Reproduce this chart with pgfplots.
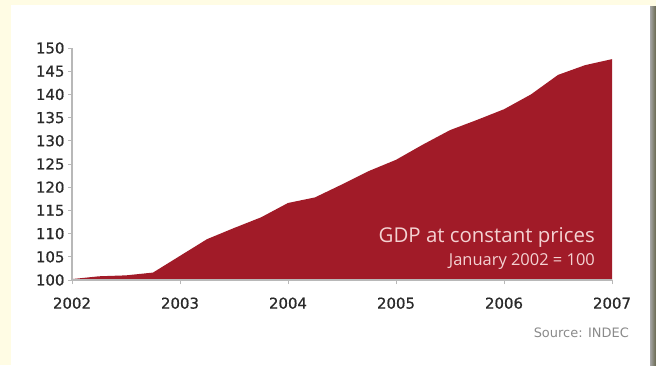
\documentclass[border=0pt]{standalone}
\usepackage{pgfplots}
\pgfplotsset{compat=1.18}
\usepackage{fontspec}
\setmainfont{DejaVu Sans}
\newfontfamily\tickfont[FakeBold=0.8]{DejaVu Sans}
\newfontfamily\myriad{Open Sans}
\definecolor{cream}{HTML}{FFFCE4}
\definecolor{gdpred}{HTML}{A11B28}
\definecolor{axgray}{HTML}{B8B8B8}
\definecolor{labgray}{HTML}{2A2A2A}
\definecolor{pinktxt}{HTML}{F4D2D2}
\definecolor{srcgray}{HTML}{8A8A8A}
\begin{document}
\begin{tikzpicture}[x=1bp,y=1bp]
\path[use as bounding box] (0,0) rectangle (656,365);
\fill[cream] (0,0) rectangle (656,365);
\fill[white] (11,0) rectangle (650,360);
\shade[left color=gray!70, right color=black!75!yellow!40!gray] (650,0) rectangle (656,358);
\begin{axis}[
  at={(72bp,85bp)}, anchor=south west,
  width=540bp, height=232bp, scale only axis,
  xmin=2002, xmax=2007, ymin=100, ymax=150,
  xtick={2002,2003,2004,2005,2006,2007},
  ytick={100,105,...,150},
  axis lines=left,
  axis line style={draw=axgray, line width=1.2pt, -},
  tick style={draw=axgray, line width=1pt},
  tick align=outside,
  major tick length=4bp,
  axis on top,
  /pgf/number format/assume math mode=true,
  /pgf/number format/1000 sep={},
  ticklabel style={font=\tickfont\fontsize{15}{17}\selectfont, text=labgray},
  xticklabel style={yshift=-10bp},
  yticklabel style={xshift=0bp},
]
\addplot[fill=gdpred, draw=none] coordinates {
(2002.00,100.2) (2002.25,100.8) (2002.50,101.0) (2002.75,101.6)
(2003.00,105.2) (2003.25,108.8) (2003.50,111.2) (2003.75,113.5)
(2004.00,116.6) (2004.25,117.8) (2004.50,120.6) (2004.75,123.5)
(2005.00,125.9) (2005.25,129.2) (2005.50,132.3) (2005.75,134.5)
(2006.00,136.8) (2006.25,140.0) (2006.50,144.2) (2006.75,146.3)
(2007.00,147.6)} \closedcycle;
\end{axis}
\node[anchor=base east, inner sep=0pt, text=pinktxt, font=\myriad\fontsize{20.5}{22}\selectfont] at (595,123) {GDP at constant prices};
\node[anchor=base east, inner sep=0pt, text=pinktxt, font=\myriad\fontsize{16.5}{18}\selectfont] at (595,100) {January 2002 = 100};
\node[anchor=base east, inner sep=0pt, text=srcgray, font=\fontsize{13}{15}\selectfont] at (629,28) {Source: INDEC};
\end{tikzpicture}
\end{document}
